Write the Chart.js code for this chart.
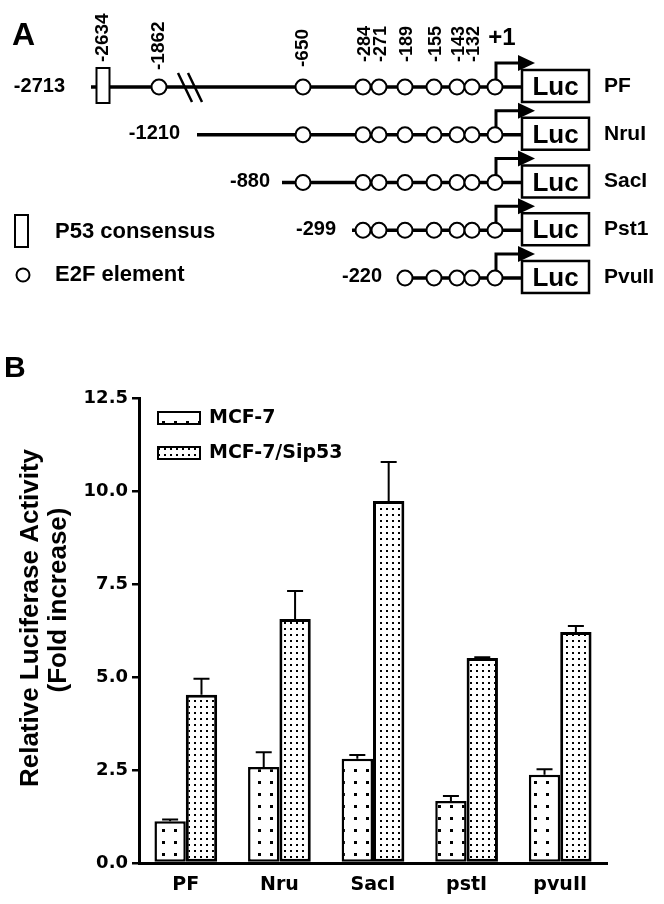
<!DOCTYPE html>
<html>
<head>
<meta charset="utf-8">
<script src="https://cdn.jsdelivr.net/npm/chart.js@4.4.1/dist/chart.umd.min.js"></script>
<style>
body { margin: 0; background: #fff; }
#wrap { position: relative; width: 664px; height: 904px; }
canvas { position: absolute; left: 0; }
#mapChart { top: 0; }
#barChart { top: 320px; }
</style>
</head>
<body>
<div id="wrap">
  <canvas id="mapChart" width="664" height="320"></canvas>
  <canvas id="barChart" width="664" height="584"></canvas>
</div>
<script>
// ---- panel A: promoter deletion constructs ----
var constructs = ['PF', 'NruI', 'SacI', 'Pst1', 'PvuII'];
var startLabels = ['-2713', '-1210', '-880', '-299', '-220'];
var startPos = [-101, -74.5, -53.25, -35.75, -22.5];      // schematic units (not to scale)
var firstSite = [0, 1, 1, 2, 4];                          // first E2F site kept in each construct
var siteLabels = ['-1862', '-650', '-284', '-271', '-189', '-155', '-143', '-132', '+1'];
var sitePos = [-84, -48, -33, -29, -22.5, -15.25, -9.5, -5.75, 0];
var p53Label = '-2634';
var p53Pos = -98;
var breakPos = -76.25;
var lucLeft = 6.75, lucRight = 23.5;

// ---- panel B: luciferase activity ----
var categories = ['PF', 'Nru', 'SacI', 'pstI', 'pvuII'];
var seriesNames = ['MCF-7', 'MCF-7/Sip53'];
var mcf7 = [1.12, 2.58, 2.80, 1.67, 2.37];
var mcf7Err = [0.05, 0.40, 0.10, 0.13, 0.15];
var sip53 = [4.52, 6.56, 9.73, 5.51, 6.21];
var sip53Err = [0.43, 0.75, 1.05, 0.02, 0.16];
var yTicks = [0, 2.5, 5, 7.5, 10, 12.5];

var fontA = '"Liberation Sans", Arial, sans-serif';
var fontB = '"DejaVu Sans", sans-serif';
var startGap = [26, 17, 12, 16, 23];

function rectBox(ctx, x, y, w, h, lw) {
  ctx.fillStyle = '#fff';
  ctx.fillRect(x, y, w, h);
  ctx.lineWidth = lw;
  ctx.strokeStyle = '#000';
  ctx.strokeRect(x, y, w, h);
}

var mapDecor = {
  id: 'mapDecor',
  afterDatasetsDraw: function(chart) {
    var ctx = chart.ctx, xs = chart.scales.x, ys = chart.scales.y;
    var px = function(v) { return xs.getPixelForValue(v); };
    var py = function(v) { return ys.getPixelForValue(v); };
    var y0 = py(0);
    ctx.save();
    ctx.fillStyle = '#000';
    ctx.font = 'bold 32px ' + fontA;
    ctx.textAlign = 'left';
    ctx.textBaseline = 'alphabetic';
    ctx.fillText('A', 12, 45);

    // p53 box and break marks on the full-length row
    rectBox(ctx, px(p53Pos) - 6.5, y0 - 19, 13, 35, 2);
    var c = px(breakPos);
    ctx.strokeStyle = '#000';
    ctx.lineWidth = 2.5;
    ctx.beginPath();
    ctx.moveTo(c - 12, y0 - 14); ctx.lineTo(c + 2, y0 + 15);
    ctx.moveTo(c - 2, y0 - 14); ctx.lineTo(c + 12, y0 + 15);
    ctx.stroke();

    // site labels over the top row
    function vlabel(txt, x, bottom, size) {
      ctx.save();
      ctx.translate(x, bottom);
      ctx.rotate(-Math.PI / 2);
      ctx.font = 'bold ' + size + 'px ' + fontA;
      ctx.fillStyle = '#000';
      ctx.textAlign = 'left';
      ctx.textBaseline = 'middle';
      ctx.fillText(txt, 0, 0);
      ctx.restore();
    }
    vlabel(p53Label, px(p53Pos), y0 - 25, 19);
    vlabel(siteLabels[0], px(sitePos[0]), y0 - 17, 19);
    vlabel(siteLabels[1], px(sitePos[1]), y0 - 20, 19);
    for (var k = 2; k < siteLabels.length - 1; k++) {
      vlabel(siteLabels[k], px(sitePos[k]) + 2, y0 - 25, 18);
    }
    ctx.fillStyle = '#000';
    ctx.font = 'bold 24px ' + fontA;
    ctx.textAlign = 'center';
    ctx.textBaseline = 'middle';
    ctx.fillText(siteLabels[siteLabels.length - 1], px(0) + 7, y0 - 49);

    // arrows, luciferase boxes and names
    constructs.forEach(function(name, i) {
      var y = py(i), x0 = px(0) + 1, xl = px(lucLeft), xr = px(lucRight);
      ctx.strokeStyle = '#000';
      ctx.lineWidth = 3;
      ctx.beginPath();
      ctx.moveTo(x0, y - 7.5);
      ctx.lineTo(x0, y - 24);
      ctx.lineTo(xl - 2, y - 24);
      ctx.stroke();
      ctx.fillStyle = '#000';
      ctx.beginPath();
      ctx.moveTo(xl - 4, y - 32);
      ctx.lineTo(xl + 13, y - 24);
      ctx.lineTo(xl - 4, y - 16);
      ctx.closePath();
      ctx.fill();
      rectBox(ctx, xl, y - 17, xr - xl, 32, 2.5);
      ctx.fillStyle = '#000';
      ctx.font = 'bold 26px ' + fontA;
      ctx.textAlign = 'center';
      ctx.textBaseline = 'middle';
      ctx.fillText('Luc', (xl + xr) / 2, y + 1);
      ctx.font = 'bold 21px ' + fontA;
      ctx.textAlign = 'left';
      ctx.fillText(name, xr + 15, y - 1);
      ctx.font = 'bold 20px ' + fontA;
      ctx.textAlign = 'right';
      ctx.fillText(startLabels[i], px(startPos[i]) - startGap[i], y - 1);
    });

    // key
    rectBox(ctx, 15, 215, 13, 32, 2);
    ctx.beginPath();
    ctx.arc(23, 275, 6.5, 0, Math.PI * 2);
    ctx.fillStyle = '#fff';
    ctx.fill();
    ctx.lineWidth = 2;
    ctx.stroke();
    ctx.fillStyle = '#000';
    ctx.font = 'bold 22px ' + fontA;
    ctx.textAlign = 'left';
    ctx.textBaseline = 'middle';
    ctx.fillText('P53 consensus', 55, 232);
    ctx.fillText('E2F element', 55, 275);
    ctx.restore();
  }
};

var rowLines = constructs.map(function(name, i) {
  var pts = [{x: startPos[i], y: i, site: false}];
  for (var k = firstSite[i]; k < sitePos.length; k++) {
    pts.push({x: sitePos[k], y: i, site: true});
  }
  pts.push({x: lucLeft, y: i, site: false});
  return {
    label: name,
    data: pts,
    showLine: true,
    borderColor: '#000',
    borderWidth: 3.5,
    pointRadius: function(c) { return c.raw && c.raw.site ? 7.5 : 0; },
    pointBackgroundColor: '#fff',
    pointBorderColor: '#000',
    pointBorderWidth: 2,
    clip: false
  };
});

new Chart(document.getElementById('mapChart'), {
  type: 'scatter',
  data: { datasets: rowLines },
  options: {
    responsive: false,
    animation: false,
    devicePixelRatio: 1,
    layout: { padding: 0 },
    events: [],
    plugins: { legend: { display: false }, tooltip: { enabled: false } },
    scales: {
      x: { type: 'linear', display: false, min: -123.75, max: 42.25 },
      y: { type: 'linear', display: false, min: -1.822, max: 4.88, reverse: true }
    }
  },
  plugins: [mapDecor]
});

// ---- bar chart ----
function dots(step, size, ox, oy) {
  var c = document.createElement('canvas');
  c.width = step; c.height = step;
  var g = c.getContext('2d');
  g.fillStyle = '#fff';
  g.fillRect(0, 0, step, step);
  g.fillStyle = '#000';
  g.fillRect(ox, oy, size, size);
  return g.createPattern(c, 'repeat');
}
var sparse = dots(12, 3, 6, 5);
var dense = dots(6, 2, 2, 2);
var errs = [mcf7Err, sip53Err];

var barDecor = {
  id: 'barDecor',
  afterDatasetsDraw: function(chart) {
    var ctx = chart.ctx, ys = chart.scales.y;
    ctx.save();
    ctx.strokeStyle = '#000';
    ctx.lineWidth = 2;
    chart.data.datasets.forEach(function(ds, i) {
      chart.getDatasetMeta(i).data.forEach(function(bar, j) {
        var e = errs[i][j];
        if (!e) return;
        var top = ys.getPixelForValue(ds.data[j]);
        var hi = ys.getPixelForValue(ds.data[j] + e);
        ctx.beginPath();
        ctx.moveTo(bar.x, top);
        ctx.lineTo(bar.x, hi);
        ctx.moveTo(bar.x - 8, hi);
        ctx.lineTo(bar.x + 8, hi);
        ctx.stroke();
      });
    });
    ctx.restore();
  },
  afterDraw: function(chart) {
    var ctx = chart.ctx, area = chart.chartArea;
    ctx.save();
    ctx.fillStyle = '#000';
    ctx.font = 'bold 30px ' + fontA;
    ctx.textAlign = 'left';
    ctx.textBaseline = 'alphabetic';
    ctx.fillText('B', 4, 57);

    // y title
    var titles = ['Relative Luciferase Activity', '(Fold increase)'];
    var tx = [31, 59], ty = [298, 280];
    ctx.font = 'bold 26px ' + fontA;
    ctx.textAlign = 'center';
    ctx.textBaseline = 'middle';
    titles.forEach(function(t, i) {
      ctx.save();
      ctx.translate(tx[i], ty[i]);
      ctx.rotate(-Math.PI / 2);
      ctx.fillText(t, 0, 0);
      ctx.restore();
    });

    // legend
    chart.data.datasets.forEach(function(ds, i) {
      var bx = area.left + 19, by = area.top + 14 + i * 35;
      ctx.fillStyle = ds.backgroundColor;
      ctx.fillRect(bx, by, 42, 12);
      ctx.lineWidth = 2;
      ctx.strokeStyle = '#000';
      ctx.strokeRect(bx, by, 42, 12);
      ctx.fillStyle = '#000';
      ctx.font = 'bold 19px ' + fontB;
      ctx.textAlign = 'left';
      ctx.textBaseline = 'middle';
      ctx.fillText(ds.label, bx + 51, by + 6);
    });
    ctx.restore();
  }
};

new Chart(document.getElementById('barChart'), {
  type: 'bar',
  data: {
    labels: categories,
    datasets: [
      { label: seriesNames[0], data: mcf7, backgroundColor: sparse, borderColor: '#000', borderWidth: 2.5, borderSkipped: false },
      { label: seriesNames[1], data: sip53, backgroundColor: dense, borderColor: '#000', borderWidth: 3, borderSkipped: false }
    ]
  },
  options: {
    responsive: false,
    animation: false,
    devicePixelRatio: 1,
    events: [],
    layout: { padding: { left: 0, right: 57, top: 78, bottom: 0 } },
    datasets: { bar: { categoryPercentage: 0.67, barPercentage: 1 } },
    plugins: { legend: { display: false }, tooltip: { enabled: false } },
    scales: {
      x: {
        grid: { display: false, drawTicks: false },
        border: { color: '#000', width: 3 },
        ticks: { color: '#000', padding: 11, font: { family: 'DejaVu Sans', size: 19, weight: 'bold' } },
        afterFit: function(s) { s.height = 41; }
      },
      y: {
        min: 0,
        max: 12.5,
        afterBuildTicks: function(s) { s.ticks = yTicks.map(function(v) { return { value: v }; }); },
        ticks: {
          color: '#000',
          padding: 4,
          font: { family: 'DejaVu Sans', size: 18, weight: 'bold' },
          callback: function(v) { return Number(v).toFixed(1); }
        },
        grid: { drawOnChartArea: false, color: '#000', lineWidth: 2.5, tickLength: 7 },
        border: { color: '#000', width: 3 },
        afterFit: function(s) { s.width = 139; }
      }
    }
  },
  plugins: [barDecor]
});
</script>
</body>
</html>
